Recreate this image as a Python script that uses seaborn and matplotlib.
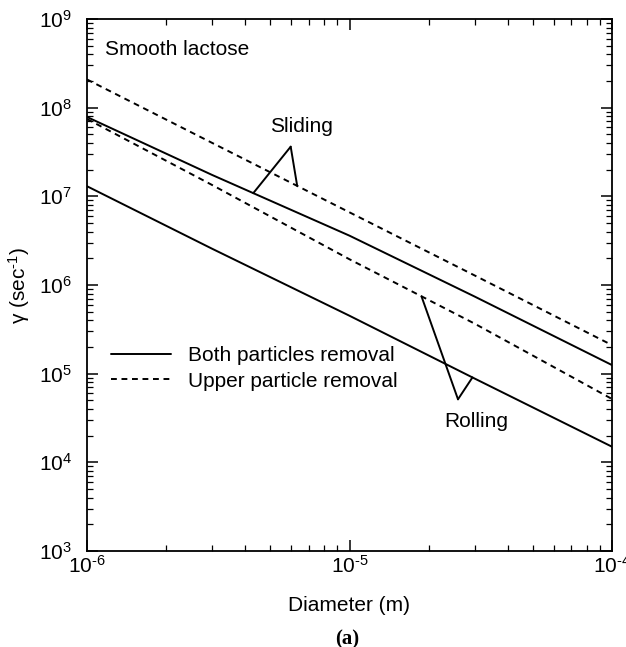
import numpy as np
import pandas as pd
import matplotlib
matplotlib.use("Agg")
import matplotlib.pyplot as plt
import seaborn as sns
from matplotlib.ticker import LogLocator, NullFormatter, FuncFormatter

# ---- data ----
diameter = [1e-6, 3e-6, 1e-5, 3e-5, 1e-4]
sliding_both = [7.85e7, 1.74e7, 3.6e6, 7.4e5, 1.25e5]
sliding_upper = [2.08e8, 4.0e7, 6.6e6, 1.28e6, 2.1e5]
rolling_upper = [7.45e7, 1.34e7, 1.95e6, 3.66e5, 5.18e4]
rolling_both = [1.3e7, 2.56e6, 4.5e5, 8.8e4, 1.5e4]
legend_labels = ["Both particles removal", "Upper particle removal"]

sns.set_style("ticks")
plt.rcParams["font.family"] = ["Liberation Sans", "DejaVu Sans"]
plt.rcParams["mathtext.fontset"] = "custom"
plt.rcParams["mathtext.rm"] = "Liberation Sans"
plt.rcParams["mathtext.default"] = "regular"
plt.rcParams["axes.unicode_minus"] = False
plt.rcParams["text.color"] = "black"
plt.rcParams["axes.labelcolor"] = "black"
FS = 15

fig = plt.figure(figsize=(6.26, 6.47), dpi=100)
ax = fig.add_axes([87/626, 1-551/647, 525/626, 532/647])

dash = (0, (3.0, 2.4))
series = [
    (sliding_both, "-", legend_labels[0]),
    (sliding_upper, dash, legend_labels[1]),
    (rolling_upper, dash, None),
    (rolling_both, "-", None),
]
for vals, ls, lab in series:
    df = pd.DataFrame({"d": diameter, "g": vals})
    sns.lineplot(data=df, x="d", y="g", ax=ax, color="black", lw=1.4,
                 linestyle=ls, label=lab, legend=False)

ax.set_xscale("log")
ax.set_yscale("log")
ax.set_xlim(1e-6, 1e-4)
ax.set_ylim(1e3, 1e9)

def pow_fmt(v, pos):
    e = int(round(np.log10(v)))
    s = str(e).replace("-", r"\text{-}")
    return r"$10^{" + s + "}$"

ax.yaxis.set_major_locator(LogLocator(base=10, numticks=20))
ax.yaxis.set_minor_locator(LogLocator(base=10, subs=np.arange(2, 10), numticks=20))
ax.xaxis.set_minor_locator(LogLocator(base=10, subs=np.arange(2, 10), numticks=20))
ax.xaxis.set_major_formatter(FuncFormatter(pow_fmt))
ax.yaxis.set_major_formatter(FuncFormatter(pow_fmt))
ax.xaxis.set_minor_formatter(NullFormatter())
ax.yaxis.set_minor_formatter(NullFormatter())

for sp in ax.spines.values():
    sp.set_visible(True)
    sp.set_linewidth(1.3)
    sp.set_color("black")
ax.tick_params(which="both", direction="in", top=True, right=True,
               colors="black", labelsize=FS)
ax.tick_params(which="major", length=8, width=1.1)
ax.tick_params(which="minor", length=4.5, width=0.9)
ax.tick_params(axis="y", which="major", pad=11)
ax.tick_params(axis="x", which="major", pad=3)

ax.set_xlabel("Diameter (m)", fontsize=FS)
ax.xaxis.set_label_coords(0.5, -(596 - 551) / 532)
ax.set_ylabel(r"γ (sec$^{\text{-}1}$)", fontsize=FS)
ax.yaxis.set_label_coords(-(87 - 32) / 525, 0.5)

# legend
leg = ax.legend(loc="center left", bbox_to_anchor=(0.045, 0.343), frameon=False,
                fontsize=FS, handlelength=2.9, handletextpad=0.8,
                borderaxespad=0, borderpad=0, labelspacing=0.3)

# text labels
ax.text(0.034, 0.942, "Smooth lactose", transform=ax.transAxes, fontsize=FS,
        ha="left", va="center")
ax.text(0.4076, 0.797, "Sliding", transform=ax.transAxes, fontsize=FS,
        ha="center", va="center")
ax.text(0.741, 0.244, "Rolling", transform=ax.transAxes, fontsize=FS,
        ha="center", va="center")

ld = np.log10(diameter)
def on_line(vals, x):
    return 10 ** np.interp(np.log10(x), ld, np.log10(vals))

def pointer(apex, targets):
    for vals, xt in targets:
        ax.annotate("", xy=(xt, on_line(vals, xt)), xytext=apex,
                    arrowprops=dict(arrowstyle="-", lw=1.4, color="black",
                                    shrinkA=0, shrinkB=0))

pointer((5.97e-6, 3.63e7), [(sliding_both, 4.30e-6), (sliding_upper, 6.32e-6)])
pointer((2.59e-5, 5.14e4), [(rolling_upper, 1.88e-5), (rolling_both, 2.94e-5)])

fig.text(347/626, 1-639/647, "(a)", fontsize=15, fontweight="bold",
         family="Liberation Serif", ha="center", va="center")

fig.savefig("out.png", dpi=100)
